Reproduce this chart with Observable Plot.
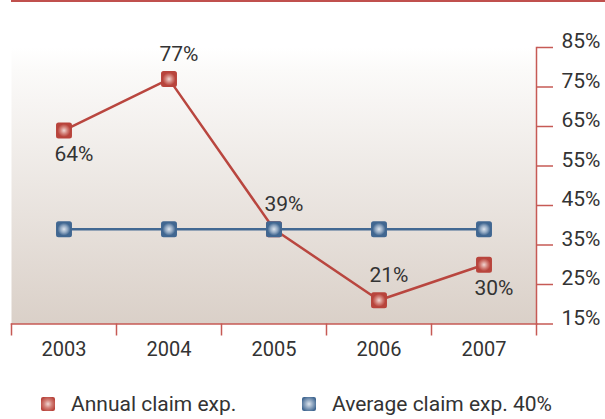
<!DOCTYPE html>
<html><head><meta charset="utf-8">
<script src="https://cdn.jsdelivr.net/npm/d3@7"></script>
<script src="https://cdn.jsdelivr.net/npm/@observablehq/plot@0.6"></script>
<style>
body{margin:0;background:#fff;font-family:Roboto, sans-serif;}
#wrap{width:605px;height:419px;position:relative;overflow:hidden}
#chart svg{display:block}
#topline{position:absolute;left:11px;right:0;top:0;height:2px;background:#c0504d}
#legend{position:absolute;top:393px;left:0;width:605px;height:22px;font-size:21px;color:#333}
.item{position:absolute;top:0;display:flex;align-items:center;height:22px;white-space:nowrap}
.sw{width:14px;height:14px;border-radius:2px;margin-right:16px}
</style></head><body>
<div id="wrap"><div id="chart"></div><div id="topline"></div><div id="legend"></div></div>
<script>
// ---- data ----
const years = ["2003", "2004", "2005", "2006", "2007"];
const annualClaim = [64, 77, 39, 21, 30];
const averageClaim = [39, 39, 39, 39, 39];
const labelBelow = [true, false, false, false, true];
const yTicks = [15, 25, 35, 45, 55, 65, 75, 85];
const seriesNames = ["Annual claim exp.", "Average claim exp. 40%"];

// ---- styles ----
const red = "#b9463f", blue = "#426892", axisRed = "#c65a55", ink = "#333";
const annualData = years.map((year, i) => ({year, value: annualClaim[i], below: labelBelow[i]}));
const avgData = years.map((year, i) => ({year, value: averageClaim[i]}));

const roundedSquare = {
  draw(ctx, size) {
    const s = Math.sqrt(size) / 2, r = 2.5;
    ctx.moveTo(-s + r, -s);
    ctx.lineTo(s - r, -s); ctx.arcTo(s, -s, s, -s + r, r);
    ctx.lineTo(s, s - r); ctx.arcTo(s, s, s - r, s, r);
    ctx.lineTo(-s + r, s); ctx.arcTo(-s, s, -s, s - r, r);
    ctx.lineTo(-s, -s + r); ctx.arcTo(-s, -s, -s + r, -s, r);
    ctx.closePath();
  }
};

const chart = Plot.plot({
  width: 605, height: 375,
  marginLeft: 11, marginRight: 69, marginTop: 47, marginBottom: 51.5,
  style: {fontFamily: "Roboto, sans-serif", fontSize: "20px", color: ink, overflow: "visible", background: "transparent"},
  x: {type: "band", domain: years, paddingInner: 0, paddingOuter: 0, axis: null},
  y: {domain: [15, 85], axis: null},
  marks: [
    Plot.frame({fill: "url(#bgGrad)", stroke: "none"}),
    Plot.frame({anchor: "bottom", stroke: axisRed, strokeWidth: 1.5}),
    Plot.frame({anchor: "right", stroke: axisRed, strokeWidth: 1.5}),
    Plot.axisX(years, {anchor: "bottom", tickSize: 12, dx: -52.5, stroke: axisRed, strokeWidth: 1.5, tickFormat: () => "", label: null}),
    Plot.axisX([years[years.length - 1]], {anchor: "bottom", tickSize: 12, dx: 52.5, stroke: axisRed, strokeWidth: 1.5, tickFormat: () => "", label: null}),
    Plot.axisX({anchor: "bottom", tickSize: 0, tickPadding: 18, fill: ink, fontSize: 20, label: null}),
    Plot.axisY(yTicks, {anchor: "right", tickSize: 16, stroke: axisRed, strokeWidth: 1.5, tickFormat: () => "", label: null}),
    Plot.text(yTicks, {y: d => d, text: d => d + "%", frameAnchor: "right", dx: 25, dy: -6, textAnchor: "start", fill: ink, fontSize: 21}),
    Plot.line(avgData, {x: "year", y: "value", stroke: blue, strokeWidth: 2.5}),
    Plot.line(annualData, {x: "year", y: "value", stroke: red, strokeWidth: 2.5}),
    Plot.dot(annualData, {x: "year", y: "value", symbol: roundedSquare, r: 9, fill: "url(#redMk)", stroke: "none"}),
    Plot.dot(avgData, {x: "year", y: "value", symbol: roundedSquare, r: 9, fill: "url(#blueMk)", stroke: "none"}),
    Plot.text(annualData.filter(d => d.below), {x: "year", y: "value", text: d => d.value + "%", dx: 10, dy: 24, fill: ink, fontSize: 21}),
    Plot.text(annualData.filter(d => !d.below), {x: "year", y: "value", text: d => d.value + "%", dx: 10, dy: -25, fill: ink, fontSize: 21})
  ]
});

const defs = d3.select(chart).insert("defs", ":first-child");
const bg = defs.append("linearGradient").attr("id", "bgGrad").attr("x1", 0).attr("y1", 0).attr("x2", 0).attr("y2", 1);
bg.append("stop").attr("offset", 0).attr("stop-color", "#ffffff");
bg.append("stop").attr("offset", 0.08).attr("stop-color", "#fbfaf9");
bg.append("stop").attr("offset", 1).attr("stop-color", "#dad0c8");
function mk(id, c0, c1, c2) {
  const g = defs.append("radialGradient").attr("id", id);
  g.append("stop").attr("offset", 0).attr("stop-color", c0);
  g.append("stop").attr("offset", 0.45).attr("stop-color", c1);
  g.append("stop").attr("offset", 0.8).attr("stop-color", c2);
  g.append("stop").attr("offset", 1).attr("stop-color", c2);
}
mk("redMk", "#f0d6d2", "#d27f77", "#b8443c");
mk("blueMk", "#dde5ee", "#8fa6c0", "#416791");
document.getElementById("chart").appendChild(chart);

// legend
const legend = d3.select("#legend");
const swatches = ["radial-gradient(circle, #f0d6d2 0%, #d27f77 40%, #b8443c 80%)",
                  "radial-gradient(circle, #dde5ee 0%, #8fa6c0 40%, #416791 80%)"];
const lefts = [41, 302];
seriesNames.forEach((name, i) => {
  const it = legend.append("div").attr("class", "item").style("left", lefts[i] + "px");
  it.append("div").attr("class", "sw").style("background", swatches[i]);
  it.append("span").text(name);
});
</script>
</body></html>
